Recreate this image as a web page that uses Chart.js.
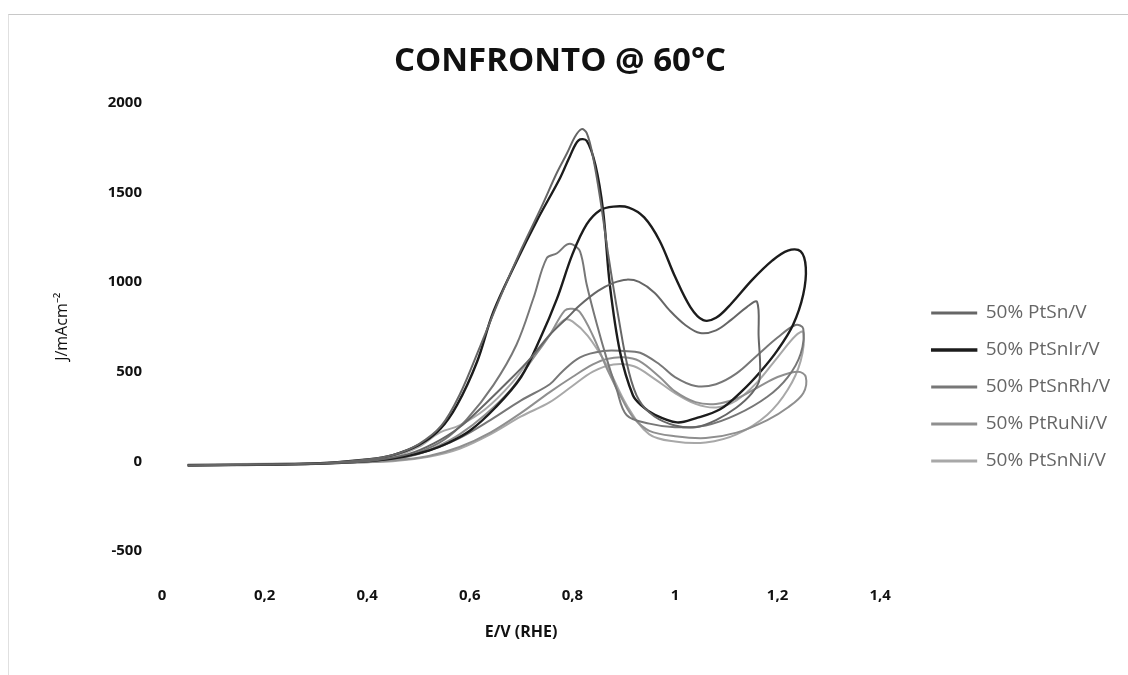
<!DOCTYPE html>
<html>
<head>
<meta charset="utf-8">
<script src="https://cdn.jsdelivr.net/npm/chart.js@4/dist/chart.umd.min.js"></script>
<style>
  html, body { margin: 0; padding: 0; background: #ffffff; }
  #wrap { position: relative; width: 1128px; height: 675px; }
  #frame { position: absolute; left: 8px; top: 14px; right: 0; bottom: 0;
           border-top: 1px solid #c8c8c8; border-left: 1px solid #e0e0e0; pointer-events: none; }
  canvas { position: absolute; left: 0; top: 0; }
</style>
</head>
<body>
<div id="wrap">
  <canvas id="cv" width="1128" height="675"></canvas>
  <div id="frame"></div>
</div>
<script>
// Cyclic voltammograms at 60 °C: potential E (V vs RHE) and current density J (mA cm^-2).
// Each series is one closed loop: forward sweep followed by the backward sweep.

const seriesNames = ['50% PtSn/V', '50% PtSnIr/V', '50% PtSnRh/V', '50% PtRuNi/V', '50% PtSnNi/V'];

const xTickValues = [0, 0.2, 0.4, 0.6, 0.8, 1, 1.2, 1.4];
const xTickLabels = ['0', '0,2', '0,4', '0,6', '0,8', '1', '1,2', '1,4'];
const yTickValues = [-500, 0, 500, 1000, 1500, 2000];
const yTickLabels = ['-500', '0', '500', '1000', '1500', '2000'];

// 50% PtSn/V
const ptSnE = [0.05, 0.2, 0.35, 0.42, 0.48, 0.53, 0.58, 0.63, 0.68, 0.72, 0.756, 0.79, 0.815, 0.85, 0.88, 0.906, 0.93, 0.96, 0.99, 1.02, 1.049, 1.08, 1.11, 1.14, 1.16, 1.163, 1.165,
               1.15, 1.12, 1.08, 1.04, 1.0, 0.96, 0.93, 0.91, 0.89, 0.87, 0.855, 0.84, 0.828, 0.818, 0.805, 0.79, 0.77, 0.74, 0.70, 0.66, 0.62, 0.58, 0.545, 0.5, 0.45, 0.4, 0.3, 0.05];
const ptSnJ = [-22, -18, -8, 8, 40, 100, 190, 320, 460, 580, 705, 800, 871, 950, 995, 1013, 1000, 940, 840, 760, 715, 730, 790, 860, 889, 700, 459,
               380, 300, 230, 190, 200, 250, 340, 500, 800, 1150, 1450, 1700, 1830, 1852, 1810, 1720, 1610, 1420, 1180, 920, 640, 370, 200, 95, 35, 10, -12, -22];

// 50% PtSnIr/V
const ptSnIrE = [0.05, 0.15, 0.25, 0.35, 0.42, 0.47, 0.52, 0.56, 0.6, 0.65, 0.70, 0.737, 0.77, 0.80, 0.828, 0.854, 0.88, 0.91, 0.94, 0.97, 1.0, 1.03, 1.055, 1.08, 1.11, 1.15, 1.19, 1.22, 1.245, 1.255,
                 1.25, 1.23, 1.20, 1.166, 1.13, 1.088, 1.04, 1.004, 0.96, 0.935, 0.918, 0.893, 0.873, 0.86, 0.845, 0.828, 0.812, 0.795, 0.776, 0.73, 0.691, 0.646, 0.614, 0.575, 0.542, 0.5, 0.45, 0.4, 0.3, 0.15, 0.05];
const ptSnIrJ = [-22, -20, -16, -8, 5, 25, 60, 105, 170, 300, 470, 683, 907, 1154, 1322, 1400, 1420, 1415, 1360, 1230, 1030, 860, 787, 800, 880, 1010, 1120, 1175, 1170, 1080,
                 930, 760, 620, 498, 390, 290, 240, 217, 260, 310, 368, 608, 984, 1394, 1650, 1787, 1790, 1700, 1580, 1338, 1114, 834, 554, 313, 179, 90, 35, 10, -12, -20, -22];

// 50% PtSnRh/V
const ptSnRhE = [0.05, 0.3, 0.4, 0.46, 0.52, 0.58, 0.64, 0.70, 0.756, 0.78, 0.815, 0.86, 0.9, 0.932, 0.97, 1.0, 1.04, 1.08, 1.12, 1.16, 1.2, 1.235, 1.25,
                 1.245, 1.22, 1.18, 1.12, 1.06, 1.0, 0.95, 0.906, 0.886, 0.867, 0.848, 0.828, 0.815, 0.80, 0.789, 0.77, 0.75, 0.724, 0.691, 0.646, 0.594, 0.55, 0.5, 0.45, 0.35, 0.05];
const ptSnRhJ = [-25, -15, 0, 20, 60, 130, 230, 340, 430, 500, 580, 615, 615, 605, 540, 470, 420, 430, 490, 590, 690, 760, 740,
                 600, 470, 360, 260, 200, 190, 210, 257, 403, 571, 761, 985, 1170, 1210, 1208, 1160, 1133, 909, 650, 425, 234, 120, 50, 15, -10, -25];

// 50% PtRuNi/V
const ptRuNiE = [0.05, 0.35, 0.45, 0.52, 0.58, 0.64, 0.70, 0.756, 0.80, 0.84, 0.867, 0.9, 0.93, 0.97, 1.0, 1.04, 1.08, 1.12, 1.16, 1.2, 1.24, 1.255,
                 1.25, 1.22, 1.18, 1.12, 1.06, 1.0, 0.95, 0.92, 0.9, 0.87, 0.84, 0.815, 0.80, 0.785, 0.756, 0.72, 0.68, 0.63, 0.58, 0.542, 0.5, 0.45, 0.35, 0.05];
const ptRuNiJ = [-20, -10, 5, 30, 80, 160, 270, 386, 470, 540, 571, 580, 560, 470, 390, 330, 320, 350, 410, 470, 500, 470,
                 380, 300, 230, 160, 130, 140, 170, 240, 330, 500, 700, 830, 850, 840, 705, 560, 400, 260, 150, 90, 40, 10, -8, -20];

// 50% PtSnNi/V
const ptSnNiE = [0.05, 0.35, 0.45, 0.52, 0.58, 0.64, 0.70, 0.756, 0.80, 0.84, 0.88, 0.92, 0.96, 1.0, 1.04, 1.08, 1.12, 1.16, 1.2, 1.235, 1.25,
                 1.245, 1.22, 1.18, 1.12, 1.06, 1.0, 0.95, 0.906, 0.867, 0.83, 0.80, 0.785, 0.76, 0.72, 0.68, 0.63, 0.58, 0.542, 0.5, 0.45, 0.35, 0.05];
const ptSnNiJ = [-18, -8, 0, 25, 70, 150, 250, 330, 420, 500, 540, 530, 460, 380, 320, 300, 340, 440, 580, 700, 720,
                 560, 400, 260, 150, 105, 110, 150, 313, 536, 700, 780, 790, 720, 580, 430, 290, 200, 161, 80, 25, -8, -18];

const seriesE = [ptSnE, ptSnIrE, ptSnRhE, ptRuNiE, ptSnNiE];
const seriesJ = [ptSnJ, ptSnIrJ, ptSnRhJ, ptRuNiJ, ptSnNiJ];
const seriesColors = ['#666666', '#1c1c1c', '#777777', '#8f8f8f', '#a8a8a8'];
const seriesWidths = [2, 2.4, 2, 2, 2];

const datasets = seriesNames.map((name, i) => ({
  label: name,
  data: seriesE[i].map((e, k) => ({ x: e, y: seriesJ[i][k] })),
  showLine: true,
  borderColor: seriesColors[i],
  backgroundColor: seriesColors[i],
  borderWidth: seriesWidths[i],
  pointRadius: 0,
  tension: 0.35,
  fill: false
}));

const labelFont = { family: 'Open Sans', size: 15, weight: 'bold' };

new Chart(document.getElementById('cv'), {
  type: 'scatter',
  data: { datasets },
  options: {
    responsive: false,
    animation: false,
    devicePixelRatio: 1,
    layout: { padding: { left: 0, right: 8, top: 0, bottom: 33 } },
    plugins: {
      title: {
        display: true,
        text: 'CONFRONTO @ 60°C',
        color: '#111111',
        font: { family: 'Open Sans', size: 33, weight: 'bold' },
        padding: { top: 42, bottom: 21 }
      },
      legend: {
        position: 'right',
        align: 'center',
        maxWidth: 260,
        title: {
          display: true,
          text: ' ',
          font: { size: 10 },
          padding: { top: 120, bottom: 0 }
        },
        labels: {
          color: '#666666',
          font: { family: 'Open Sans', size: 19 },
          boxWidth: 44,
          boxHeight: 1,
          padding: 18
        }
      },
      tooltip: { enabled: false }
    },
    scales: {
      x: {
        type: 'linear',
        min: 0,
        max: 1.4,
        afterFit: s => { s.height = 91; },
        grid: { display: false, drawTicks: false },
        border: { display: false },
        afterBuildTicks: s => { s.ticks = xTickValues.map(v => ({ value: v })); },
        ticks: {
          color: '#111111',
          font: labelFont,
          padding: 36,
          maxRotation: 0,
          callback: (v, i) => xTickLabels[i]
        },
        title: {
          display: true,
          text: 'E/V (RHE)',
          color: '#111111',
          font: { family: 'Open Sans', size: 16, weight: 'bold' },
          padding: { top: 4, bottom: 0 }
        }
      },
      y: {
        type: 'linear',
        min: -500,
        max: 2000,
        afterFit: s => { s.width = 162; },
        grid: { display: false, drawTicks: false },
        border: { display: false },
        afterBuildTicks: s => { s.ticks = yTickValues.map(v => ({ value: v })); },
        ticks: {
          color: '#111111',
          font: labelFont,
          padding: 20,
          callback: (v, i) => yTickLabels[i]
        },
        title: {
          display: true,
          text: 'J/mAcm\u207B\u00B2',
          color: '#111111',
          font: { family: 'Open Sans', size: 16 },
          padding: { top: 53, bottom: 4 }
        }
      },
      gap: {
        type: 'linear',
        position: 'right',
        display: true,
        grid: { display: false, drawTicks: false },
        border: { display: false },
        ticks: { display: false },
        afterFit: s => { s.width = 34; }
      }
    }
  }
});
</script>
</body>
</html>
